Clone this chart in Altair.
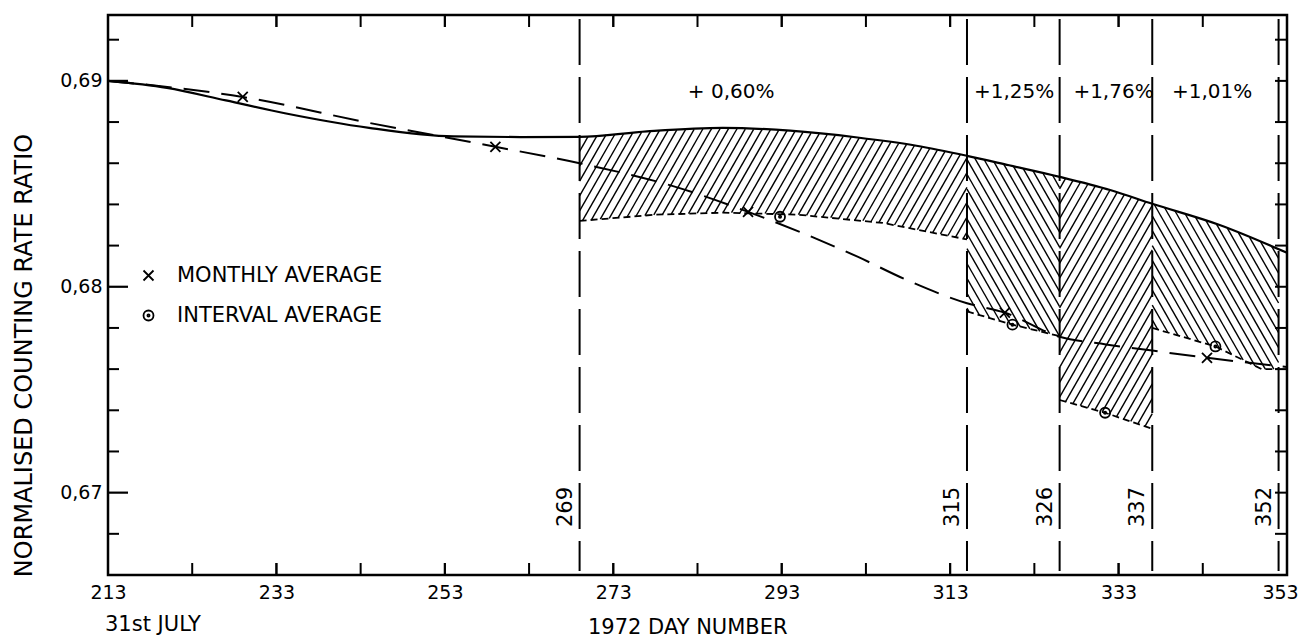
import altair as alt
import pandas as pd
import numpy as np

# ---------------- data ----------------
SOLID_DAY = [213, 220, 227, 234, 244, 254, 262, 269, 277, 286, 294, 302, 309, 315, 320, 326, 332, 337, 345, 353]
SOLID_VAL = [0.6900, 0.68966, 0.68905, 0.68843, 0.68772, 0.68730, 0.68727, 0.68728, 0.68755, 0.68772,
             0.68758, 0.68725, 0.68685, 0.68636, 0.68590, 0.68534, 0.68470, 0.68403, 0.68300, 0.68165]

MONTH_LINE_DAY = [213, 229, 244, 259, 269, 280, 289, 302, 308, 315, 319.5, 326, 331.5, 337, 343.5, 353]
MONTH_LINE_VAL = [0.6900, 0.68922, 0.68796, 0.6868, 0.6860, 0.6849, 0.68364, 0.68146, 0.6803, 0.6792,
                  0.67874, 0.67757, 0.6772, 0.6769, 0.67655, 0.6761]

MONTHLY_DAY = [229, 259, 289, 319.5, 343.5]
MONTHLY_VAL = [0.68922, 0.6868, 0.68364, 0.67874, 0.67655]

INTERVAL_DAY = [292.8, 320.4, 331.4, 344.5]
INTERVAL_VAL = [0.6834, 0.67816, 0.67388, 0.6771]

LOW1_DAY = [269, 278, 286, 295, 305, 315]
LOW1_VAL = [0.6832, 0.6835, 0.6836, 0.6835, 0.6831, 0.6823]
LOW2_DAY = [315, 320.4, 326]
LOW2_VAL = [0.6788, 0.67816, 0.6776]
LOW3_DAY = [326, 331.4, 337]
LOW3_VAL = [0.6745, 0.67388, 0.6731]
LOW4_DAY = [337, 344.5, 350, 352]
LOW4_VAL = [0.6780, 0.6771, 0.6760, 0.6760]

BOUNDS = [269, 315, 326, 337, 352]
BOUND_LABELS = ["269", "315", "326", "337", "352"]

PCT_DAY = [287, 320.6, 332.4, 344.1]
PCT_TEXT = ["+ 0,60%", "+1,25%", "+1,76%", "+1,01%"]

X_LABELS = [213, 233, 253, 273, 293, 313, 333, 353]
X_TICKS = [223, 233, 243, 253, 263, 273, 283, 293, 303, 313, 323, 333, 343]
Y_MAJOR = [0.67, 0.68, 0.69]
Y_MINOR = [0.668, 0.672, 0.674, 0.676, 0.678, 0.682, 0.684, 0.686, 0.688, 0.692]

LEGEND_NAMES = ["MONTHLY AVERAGE", "INTERVAL AVERAGE"]

# ---------------- layout / style ----------------
W, H = 1179, 560
XDOM = [213, 353]
YDOM = [0.666, 0.6932]
FONT = "DejaVu Sans"
INK = "black"

xsc = alt.Scale(domain=XDOM, nice=False, zero=False)
ysc = alt.Scale(domain=YDOM, nice=False, zero=False)
xax = alt.Axis(values=X_LABELS, ticks=False, domain=False, grid=False, labelFontSize=19,
               labelFont=FONT, labelColor=INK, labelPadding=8, title=None, labelFlush=False,
               labelOffset=alt.expr("datum.value >= 353 ? -7 : 0"))
yax = alt.Axis(values=Y_MAJOR, ticks=False, domain=False, grid=False, labelFontSize=19,
               labelFont=FONT, labelColor=INK, labelPadding=6,
               labelExpr="replace(format(datum.value, '.2f'), '.', ',')",
               title="NORMALISED COUNTING RATE RATIO", titleFont=FONT, titleFontSize=24,
               titleFontWeight="normal", titleColor=INK, titleAngle=270, titleX=-84, titleY=340,
               titleAlign="center", titleBaseline="middle")


def X(f):
    return alt.X(f, type="quantitative", scale=xsc, axis=xax)


def Y(f):
    return alt.Y(f, type="quantitative", scale=ysc, axis=yax)


# ---------------- hatching (decoration derived from the boundary arrays) ----------------
kx = W / (XDOM[1] - XDOM[0])
ky = H / (YDOM[1] - YDOM[0])


def hatch(a, b, low_d, low_v, sgn, step=8.5, slope=1.75):
    xs = np.linspace(a, b, 2000)
    up = np.interp(xs, SOLID_DAY, SOLID_VAL)
    lo = np.interp(xs, low_d, low_v)
    Xp = (xs - XDOM[0]) * kx
    Yu = (up - YDOM[0]) * ky
    Yl = (lo - YDOM[0]) * ky
    m = sgn * slope
    cs = np.concatenate([Xp - Yu / m, Xp - Yl / m])
    out = []
    for c in np.arange(np.floor(cs.min() / step) * step, cs.max() + step, step):
        Yline = m * (Xp - c)
        idx = np.where((Yline >= Yl) & (Yline <= Yu))[0]
        if len(idx) < 2:
            continue
        i0, i1 = idx[0], idx[-1]
        out.append({"d": xs[i0], "v": Yline[i0] / ky + YDOM[0],
                    "d2": xs[i1], "v2": Yline[i1] / ky + YDOM[0]})
    return out


hrows = []
hrows += hatch(BOUNDS[0], BOUNDS[1], LOW1_DAY, LOW1_VAL, +1)
hrows += hatch(BOUNDS[1], BOUNDS[2], LOW2_DAY, LOW2_VAL, -1)
hrows += hatch(BOUNDS[2], BOUNDS[3], LOW3_DAY, LOW3_VAL, +1)
hrows += hatch(BOUNDS[3], BOUNDS[4], LOW4_DAY, LOW4_VAL, -1)
hatch_df = pd.DataFrame(hrows)

# ---------------- tables ----------------
solid_df = pd.DataFrame({"d": SOLID_DAY, "v": SOLID_VAL})
month_line_df = pd.DataFrame({"d": MONTH_LINE_DAY, "v": MONTH_LINE_VAL})
low_df = pd.concat([
    pd.DataFrame({"d": LOW1_DAY, "v": LOW1_VAL, "r": "a"}),
    pd.DataFrame({"d": LOW2_DAY, "v": LOW2_VAL, "r": "b"}),
    pd.DataFrame({"d": LOW3_DAY, "v": LOW3_VAL, "r": "c"}),
    pd.DataFrame({"d": LOW4_DAY, "v": LOW4_VAL, "r": "d"}),
])
pts_df = pd.concat([
    pd.DataFrame({"d": MONTHLY_DAY, "v": MONTHLY_VAL, "kind": LEGEND_NAMES[0]}),
    pd.DataFrame({"d": INTERVAL_DAY, "v": INTERVAL_VAL, "kind": LEGEND_NAMES[1]}),
])
bounds_df = pd.DataFrame({"d": BOUNDS, "lab": BOUND_LABELS})
pct_df = pd.DataFrame({"d": PCT_DAY, "t": PCT_TEXT})
xt_df = pd.DataFrame({"d": X_TICKS})
xl_df = pd.DataFrame({"d": X_LABELS})
ymaj_df = pd.DataFrame({"v": Y_MAJOR})
ymin_df = pd.DataFrame({"v": Y_MINOR})

X_PATH = "M-1,-1L1,1M-1,1L1,-1"
ODOT_PATH = ("M1,0A1,1,0,1,1,-1,0A1,1,0,1,1,1,0Z"
             "M0.22,0A0.22,0.22,0,1,1,-0.22,0A0.22,0.22,0,1,1,0.22,0Z")

# ---------------- layers ----------------
hatch_layer = alt.Chart(hatch_df).mark_rule(color=INK, strokeWidth=1.4).encode(
    x=X("d"), y=Y("v"), x2=alt.X2("d2"), y2=alt.Y2("v2"))

solid_layer = alt.Chart(solid_df).mark_line(color=INK, strokeWidth=2.2, interpolate="monotone").encode(
    x=X("d"), y=Y("v"))

month_layer = alt.Chart(month_line_df).mark_line(
    color=INK, strokeWidth=2, strokeDash=[26, 12], interpolate="monotone").encode(x=X("d"), y=Y("v"))

low_layer = alt.Chart(low_df).mark_line(color=INK, strokeWidth=1.8, strokeDash=[7, 4]).encode(
    x=X("d"), y=Y("v"), detail="r:N")

bounds_layer = alt.Chart(bounds_df).mark_rule(color=INK, strokeWidth=2, strokeDash=[46, 12]).encode(
    x=X("d"), y=alt.value(4), y2=alt.value(H - 4))

bound_text = alt.Chart(bounds_df).mark_text(
    font=FONT, fontSize=21, angle=270, align="center", baseline="alphabetic", dy=-8, color=INK).encode(
    x=X("d"), y=alt.value(492), text="lab:N")

pct_text = alt.Chart(pct_df).mark_text(font=FONT, fontSize=20, align="center", baseline="middle",
                                       color=INK).encode(x=X("d"), y=alt.value(77), text="t:N")

pts_layer = alt.Chart(pts_df).mark_point(filled=False, color=INK, strokeWidth=1.8, size=100, opacity=1).encode(
    x=X("d"), y=Y("v"),
    shape=alt.Shape("kind:N", scale=alt.Scale(domain=LEGEND_NAMES, range=[X_PATH, ODOT_PATH]),
                    legend=alt.Legend(title=None, orient="none", legendX=30, legendY=250,
                                      labelFont=FONT, labelFontSize=21, labelColor=INK, labelLimit=0,
                                      labelOffset=18, rowPadding=18, padding=0,
                                      symbolStrokeColor=INK, symbolStrokeWidth=1.8,
                                      symbolFillColor="transparent", symbolSize=100)))

# inward ticks on all four sides
yt_major = alt.Chart(ymaj_df).mark_rule(color=INK, strokeWidth=2.2).encode(
    y=Y("v"), x=alt.value(0), x2=alt.value(20))
yt_minor = alt.Chart(ymin_df).mark_rule(color=INK, strokeWidth=2).encode(
    y=Y("v"), x=alt.value(0), x2=alt.value(11))
yt_right = alt.Chart(pd.concat([ymaj_df, ymin_df])).mark_rule(color=INK, strokeWidth=2).encode(
    y=Y("v"), x=alt.value(W), x2=alt.value(W - 12))
xt_bottom = alt.Chart(pd.concat([xt_df, xl_df])).mark_rule(color=INK, strokeWidth=2).encode(
    x=X("d"), y=alt.value(H), y2=alt.value(H - 12))
xt_top = alt.Chart(pd.concat([xt_df, xl_df])).mark_rule(color=INK, strokeWidth=2).encode(
    x=X("d"), y=alt.value(0), y2=alt.value(12))

xlab1 = alt.Chart(pd.DataFrame({"t": ["31st JULY"]})).mark_text(
    font=FONT, fontSize=21, align="left", baseline="middle", color=INK).encode(
    x=alt.value(-3), y=alt.value(610), text="t:N")
xlab2 = alt.Chart(pd.DataFrame({"t": ["1972  DAY NUMBER"]})).mark_text(
    font=FONT, fontSize=21, align="left", baseline="middle", color=INK).encode(
    x=alt.value(480), y=alt.value(613), text="t:N")

chart = alt.layer(
    hatch_layer, bounds_layer, low_layer, solid_layer, month_layer, pts_layer,
    bound_text, pct_text, yt_major, yt_minor, yt_right, xt_bottom, xt_top, xlab1, xlab2,
).properties(
    width=W, height=H,
    autosize=alt.AutoSizeParams(type="none"),
    padding={"left": 100, "top": 7, "right": 13, "bottom": 70},
    background="white",
).configure_view(stroke=INK, strokeWidth=2.5)

chart.save("out.html", embed_options={"renderer": "svg", "actions": False})
